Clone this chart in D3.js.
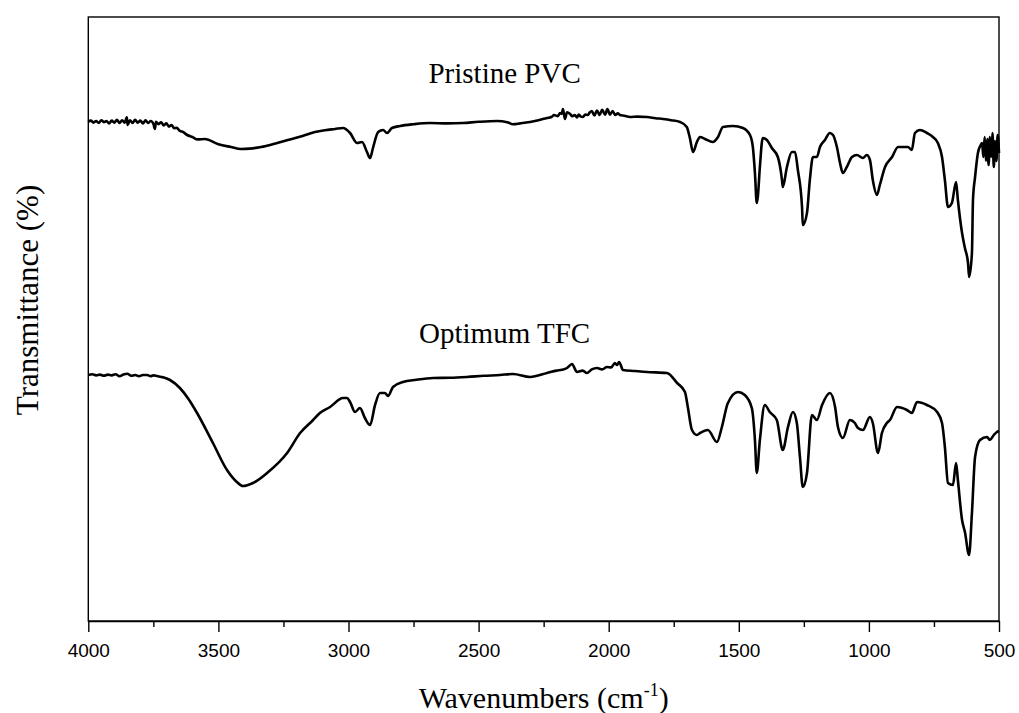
<!DOCTYPE html>
<html>
<head>
<meta charset="utf-8">
<script src="https://cdn.jsdelivr.net/npm/d3@7"></script>
<style>
  html, body { margin: 0; padding: 0; background: #fff; }
  svg { display: block; }
</style>
</head>
<body>
<svg id="chart" width="1019" height="713"></svg>
<script>
// ---------------- DATA ----------------
const xMajorTicks = [4000, 3500, 3000, 2500, 2000, 1500, 1000, 500];
const xMinorTicks = [3750, 3250, 2750, 2250, 1750, 1250, 750];
const xDomain = [4000, 500];
const yDomain = [0, 151]; // arbitrary transmittance units (stacked spectra)

const seriesNames = ["Pristine PVC", "Optimum TFC"];

// Pristine PVC spectrum (wavenumber cm-1, transmittance a.u.)
const pvcWavenumber = [
  4000, 3990, 3980, 3970, 3960, 3950, 3940, 3930, 3920, 3910, 3900, 3890, 3880, 3870, 3860, 3852,
  3849, 3840, 3830, 3820, 3810, 3800, 3790, 3780, 3770, 3760, 3750, 3744, 3740, 3730, 3720, 3710,
  3700, 3690, 3680, 3670, 3660, 3650, 3635, 3620, 3600, 3580, 3552, 3500,
  3452, 3413, 3380, 3336, 3280, 3233, 3180, 3129, 3090, 3052, 3021, 2994, 2967, 2948, 2929, 2917,
  2906, 2886, 2867, 2852, 2833, 2802, 2750, 2687, 2620, 2560, 2500, 2429, 2390, 2368, 2340, 2302,
  2270, 2237, 2220, 2210, 2195, 2187, 2180, 2176, 2172, 2168, 2160, 2149, 2140, 2130, 2122, 2115,
  2107, 2099, 2090, 2080, 2072, 2065, 2055, 2045, 2035, 2025, 2014, 2005, 1995, 1985, 1975, 1965,
  1957, 1940, 1918, 1890, 1853, 1820, 1791, 1760, 1726, 1700, 1688,
  1676, 1661, 1649, 1630, 1600, 1580, 1561, 1522, 1484, 1457, 1446, 1438, 1431, 1427, 1419, 1408,
  1392, 1373, 1350, 1334, 1331, 1315, 1296, 1284, 1273, 1257, 1254, 1238, 1227, 1215, 1200, 1188,
  1169, 1150, 1138, 1123, 1111, 1100, 1085, 1065, 1046, 1023, 1008, 996, 985, 969, 958, 938,
  911, 888, 850, 835, 823, 804, 777, 754, 735, 719, 708, 696, 681, 665, 658, 642,
  631, 619, 615, 604, 600, 592, 581, 570, 565, 560, 555, 550, 545, 540, 535, 530,
  525, 520, 515, 510, 505, 500
];
const pvcTransmittance = [
  124.8, 125.1, 124.6, 125.0, 124.5, 125.2, 124.7, 125.0, 124.4, 125.1, 124.6, 125.3, 124.5, 125.2, 124.6, 125.9,
  124.0, 125.2, 124.5, 125.3, 124.6, 125.1, 124.4, 125.2, 124.5, 125.0, 124.3, 123.0, 124.8, 124.2, 124.7, 123.9,
  124.4, 123.6, 124.0, 123.2, 123.3, 122.6, 122.2, 121.5, 121.0, 120.4, 120.5, 119.2,
  118.5, 118.0, 118.1, 118.5, 119.4, 120.25, 121.2, 122.25, 122.7, 123.0, 123.25, 122.0, 119.5, 119.75, 117.25, 115.75,
  118.25, 122.25, 122.75, 122.0, 123.25, 123.75, 124.2, 124.5, 124.4, 124.5, 124.8, 125.0, 124.7, 124.2, 124.4, 124.75,
  125.2, 125.75, 126.0, 126.5, 126.2, 127.0, 126.8, 128.0, 126.8, 125.5, 127.2, 126.8, 126.2, 126.5, 125.9, 126.6,
  126.1, 126.0, 126.6, 126.5, 127.2, 127.5, 126.4, 127.6, 126.5, 127.8, 126.6, 128.0, 126.6, 127.5, 126.5, 126.9,
  126.5, 126.3, 126.0, 126.1, 126.0, 125.7, 125.5, 125.2, 124.75, 123.5, 120.75,
  117.25, 119.75, 121.0, 120.5, 119.75, 121.0, 123.5, 123.75, 123.25, 121.5, 118.5, 112.0, 104.5, 106.0, 113.5, 120.75,
  120.25, 118.25, 116.0, 110.25, 108.5, 113.5, 117.25, 117.25, 112.75, 103.5, 99.0, 102.0, 110.25, 116.0, 116.0, 118.5,
  120.25, 122.0, 121.5, 118.5, 114.5, 112.0, 113.5, 116.0, 116.5, 115.75, 116.5, 115.25, 110.25, 106.5, 109.0, 113.5,
  116.0, 118.5, 118.5, 117.75, 122.0, 122.75, 122.0, 121.0, 119.5, 116.0, 110.25, 103.5, 104.5, 109.75, 105.25, 97.0,
  93.25, 89.5, 86.0, 92.0, 105.25, 111.0, 117.0, 119.0, 119.5, 116.0, 121.0, 115.0, 120.5, 114.0, 121.0, 116.0,
  122.0, 113.5, 120.0, 115.0, 121.5, 117.0
];

// Optimum TFC spectrum (wavenumber cm-1, transmittance a.u.)
const tfcWavenumber = [
  4000, 3985, 3970, 3955, 3940, 3925, 3910, 3895, 3880, 3865, 3850, 3835, 3820, 3805, 3790, 3774,
  3760, 3750, 3736, 3720, 3710, 3686, 3648, 3615, 3582,
  3521, 3467, 3429, 3406, 3367, 3313, 3236, 3186, 3136, 3110, 3071, 3021, 3006, 2994, 2975, 2956,
  2937, 2917, 2898, 2879, 2860, 2848, 2829, 2791, 2740, 2675, 2610, 2545, 2480, 2418, 2368, 2302,
  2237, 2200, 2180, 2160, 2141, 2122, 2100, 2084, 2065, 2045, 2025, 2007, 1990, 1976, 1968, 1960, 1945, 1900, 1853, 1776, 1737,
  1707, 1696, 1680, 1661, 1649, 1619, 1584, 1565, 1542, 1503, 1477, 1450, 1438, 1431, 1419, 1400,
  1381, 1354, 1331, 1311, 1292, 1277, 1265, 1254, 1238, 1219, 1200, 1180, 1150, 1130, 1119, 1100,
  1073, 1054, 1042, 1023, 996, 985, 965, 950, 931, 919, 892, 854, 835, 815, 777, 738,
  719, 708, 696, 677, 665, 658, 642, 631, 615, 604, 592, 573, 546, 535, 520, 508, 500
];
const tfcTransmittance = [
  61.5, 61.7, 61.4, 61.6, 61.3, 61.6, 61.4, 61.7, 61.2, 61.6, 61.8, 61.3, 61.5, 61.2, 61.5, 61.5,
  61.2, 61.4, 61.25, 61.0, 60.9, 60.25, 58.25, 55.5, 52.0,
  44.5, 37.75, 34.75, 33.75, 34.5, 37.0, 42.0, 47.0, 50.25, 52.0, 53.5, 55.75, 55.75, 54.75, 52.25, 53.25,
  50.75, 49.0, 54.0, 57.0, 57.0, 56.25, 58.5, 59.75, 60.3, 60.75, 60.8, 61.0, 61.3, 61.5, 61.75, 61.0,
  62.0, 62.6, 62.8, 63.25, 64.25, 62.25, 62.6, 62.0, 62.9, 63.25, 62.9, 63.5, 63.4, 64.5, 64.0, 64.75, 62.75, 62.5, 62.25, 62.0, 59.5,
  57.25, 53.5, 47.75, 46.5, 47.0, 47.75, 44.75, 48.5, 54.5, 57.25, 56.5, 53.25, 45.25, 37.0, 45.25, 54.0,
  52.25, 50.25, 42.75, 48.5, 52.25, 49.5, 41.0, 33.5, 37.0, 51.5, 50.25, 54.0, 57.0, 53.5, 48.5, 45.75,
  50.25, 49.5, 48.25, 47.75, 51.0, 49.5, 42.0, 47.0, 49.5, 50.25, 53.5, 52.75, 52.0, 54.75, 54.0, 52.25,
  49.5, 43.5, 34.5, 34.0, 39.5, 35.25, 25.25, 22.25, 16.5, 27.0, 41.0, 45.25, 46.0, 45.25, 46.5, 47.25, 47.5
];

// Labels placed near each spectrum (wavenumber position, transmittance position)
const labelWavenumber = [2400, 2400];
const labelTransmittance = [134.5, 69.5];

// ---------------- CHART ----------------
const svg = d3.select("#chart");

const x = d3.scaleLinear().domain(xDomain).range([88.3, 999]);
const y = d3.scaleLinear().domain(yDomain).range([621, 17]);

const line = d3.line().x(d => x(d[0])).y(d => y(d[1])).curve(d3.curveMonotoneX);

const pvc = pvcWavenumber.map((w, i) => [w, pvcTransmittance[i]]);
const tfc = tfcWavenumber.map((w, i) => [w, tfcTransmittance[i]]);

[pvc, tfc].forEach(series => {
  svg.append("path").datum(series).attr("d", line)
    .attr("fill", "none").attr("stroke", "#000").attr("stroke-width", 2.6)
    .attr("stroke-linejoin", "round");
});

// Frame
svg.append("rect")
  .attr("x", x(xDomain[0])).attr("y", y(yDomain[1]))
  .attr("width", x(xDomain[1]) - x(xDomain[0]))
  .attr("height", y(yDomain[0]) - y(yDomain[1]))
  .attr("fill", "none").attr("stroke", "#000").attr("stroke-width", 1.4);

// Minor ticks
const minorAxis = d3.axisBottom(x).tickValues(xMinorTicks).tickSize(6).tickSizeOuter(0).tickFormat("");
const gMinor = svg.append("g").attr("transform", `translate(0,${y(0)})`).call(minorAxis);
gMinor.select(".domain").remove();
gMinor.selectAll("line").attr("stroke", "#000").attr("stroke-width", 1.4);

// Major ticks + labels
const majorAxis = d3.axisBottom(x).tickValues(xMajorTicks).tickSize(11).tickSizeOuter(0)
  .tickPadding(12).tickFormat(d3.format("d"));
const gMajor = svg.append("g").attr("transform", `translate(0,${y(0)})`).call(majorAxis);
gMajor.select(".domain").attr("stroke", "#000").attr("stroke-width", 1.4);
gMajor.selectAll("line").attr("stroke", "#000").attr("stroke-width", 1.4);
gMajor.selectAll("text")
  .attr("fill", "#000")
  .style("font-family", "'Liberation Sans', Arial, sans-serif")
  .style("font-size", "19px");

// Axis titles
const xt = svg.append("text")
  .attr("x", (x(xDomain[0]) + x(xDomain[1])) / 2)
  .attr("y", 708)
  .attr("text-anchor", "middle")
  .style("font-family", "'Liberation Serif', 'Times New Roman', serif")
  .style("font-size", "30px")
  .attr("fill", "#000");
xt.append("tspan").text("Wavenumbers (cm");
xt.append("tspan").attr("dy", -12).style("font-size", "18px").text("-1");
xt.append("tspan").attr("dy", 12).text(")");

svg.append("text")
  .attr("transform", `translate(38,300) rotate(-90)`)
  .attr("text-anchor", "middle")
  .style("font-family", "'Liberation Serif', 'Times New Roman', serif")
  .style("font-size", "31px")
  .attr("fill", "#000")
  .text("Transmittance (%)");

// Series labels
svg.selectAll("text.series-label")
  .data(seriesNames)
  .enter().append("text")
  .attr("class", "series-label")
  .attr("x", (d, i) => x(labelWavenumber[i]))
  .attr("y", (d, i) => y(labelTransmittance[i]))
  .attr("text-anchor", "middle")
  .style("font-family", "'Liberation Serif', 'Times New Roman', serif")
  .style("font-size", "29px")
  .attr("fill", "#000")
  .text(d => d);
</script>
</body>
</html>
